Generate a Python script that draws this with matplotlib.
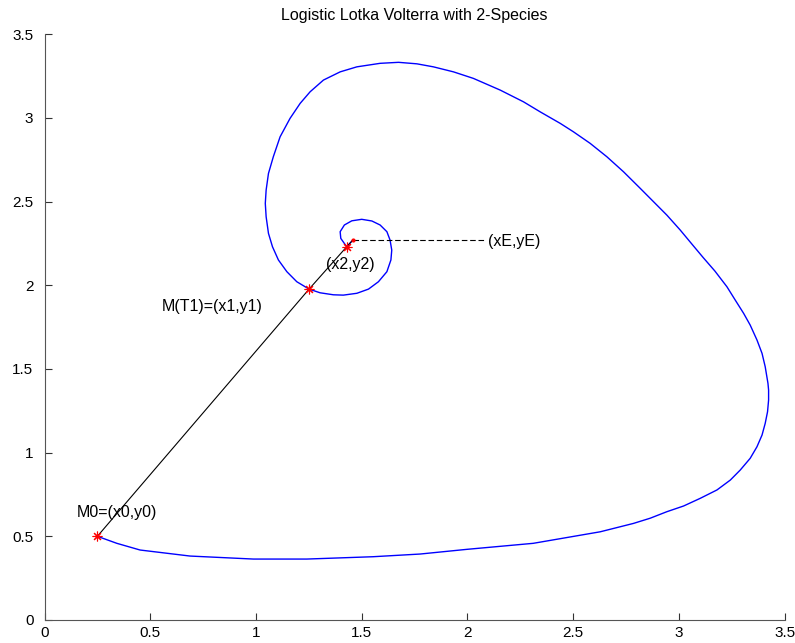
import matplotlib.pyplot as plt

plt.rcParams['font.family'] = ['Liberation Sans', 'DejaVu Sans']

# trajectory
traj_x = [0.25, 0.342, 0.452, 0.688, 0.988, 1.240, 1.554, 1.776, 1.997, 2.311,
          2.628, 2.785, 2.864, 2.943, 3.022, 3.101, 3.180, 3.243, 3.290, 3.337,
          3.369, 3.393, 3.408, 3.419, 3.424, 3.424, 3.421, 3.408, 3.393, 3.369,
          3.337, 3.306, 3.266, 3.227, 3.170, 3.115, 3.062, 3.006, 2.943, 2.880,
          2.817, 2.738, 2.659, 2.580, 2.501, 2.439, 2.344, 2.265, 2.155, 2.028,
          1.934, 1.839, 1.761, 1.674, 1.587, 1.477, 1.398, 1.319, 1.256, 1.209,
          1.161, 1.114, 1.082, 1.059, 1.048, 1.044, 1.048, 1.059, 1.078, 1.106,
          1.146, 1.193, 1.251, 1.303, 1.366, 1.413, 1.477, 1.532, 1.579, 1.619,
          1.638, 1.642, 1.634, 1.619, 1.587, 1.548, 1.500, 1.453, 1.418, 1.398,
          1.401, 1.429, 1.458]
traj_y = [0.5, 0.458, 0.418, 0.382, 0.364, 0.364, 0.378, 0.394, 0.422, 0.458,
          0.527, 0.577, 0.608, 0.647, 0.681, 0.727, 0.777, 0.836, 0.896, 0.966,
          1.035, 1.105, 1.175, 1.244, 1.314, 1.374, 1.414, 1.513, 1.593, 1.673,
          1.762, 1.832, 1.912, 1.991, 2.085, 2.165, 2.245, 2.330, 2.419, 2.499,
          2.579, 2.678, 2.768, 2.848, 2.917, 2.967, 3.036, 3.096, 3.166, 3.236,
          3.275, 3.305, 3.323, 3.332, 3.326, 3.305, 3.275, 3.226, 3.156, 3.087,
          2.997, 2.887, 2.768, 2.668, 2.569, 2.489, 2.409, 2.310, 2.230, 2.151,
          2.081, 2.021, 1.977, 1.955, 1.943, 1.941, 1.952, 1.977, 2.021, 2.081,
          2.151, 2.210, 2.270, 2.320, 2.360, 2.384, 2.394, 2.385, 2.360, 2.320,
          2.280, 2.230, 2.270]

# marked points M0, M(T1), M(T2) and the end point E
pts_x = [0.25, 1.251, 1.429]
pts_y = [0.5, 1.977, 2.230]
end_x, end_y = 1.458, 2.270
dash_end_x = 2.09

labels = ['M0=(x0,y0)', 'M(T1)=(x1,y1)', '(x2,y2)', '(xE,yE)']
label_x = [0.152, 0.554, 1.332, 2.099]
label_y = [0.643, 1.872, 2.125, 2.260]

ticks = [0, 0.5, 1, 1.5, 2, 2.5, 3, 3.5]
tick_labels = ['0', '0.5', '1', '1.5', '2', '2.5', '3', '3.5']

fig = plt.figure(figsize=(7.95, 6.43), dpi=100)
ax = fig.add_axes([0.056, 0.0358, 0.931, 0.911])

ax.plot(traj_x, traj_y, color='#0000ff', lw=1.0, solid_joinstyle='round')
ax.plot(pts_x + [end_x], pts_y + [end_y], color='black', lw=0.8)
ax.plot([end_x, dash_end_x], [end_y, end_y], color='black', lw=0.8,
        dashes=(5, 2.5))
ax.plot(pts_x, pts_y, ls='none', marker=(8, 2, 0), color='red',
        markersize=7, markeredgewidth=0.8)
ax.plot([end_x], [end_y], ls='none', marker='.', color='red', markersize=4)

for t, x, y in zip(labels, label_x, label_y):
    ax.text(x, y, t, fontsize=11.5, ha='left', va='center')

ax.set_title('Logistic Lotka Volterra with 2-Species', fontsize=11.5, pad=10)

ax.set_xlim(0, 3.5)
ax.set_ylim(0, 3.5)
ax.set_xticks(ticks)
ax.set_xticklabels(tick_labels)
ax.set_yticks(ticks)
ax.set_yticklabels(tick_labels)
ax.tick_params(direction='in', length=5, width=0.8, colors='#333333',
               labelcolor='black', labelsize=11)
ax.tick_params(axis='x', pad=4)
ax.tick_params(axis='y', pad=8)
ax.spines['top'].set_visible(False)
ax.spines['right'].set_visible(False)
for s in ['left', 'bottom']:
    ax.spines[s].set_color('#555555')
    ax.spines[s].set_linewidth(0.8)

fig.savefig('out.png', dpi=100)
